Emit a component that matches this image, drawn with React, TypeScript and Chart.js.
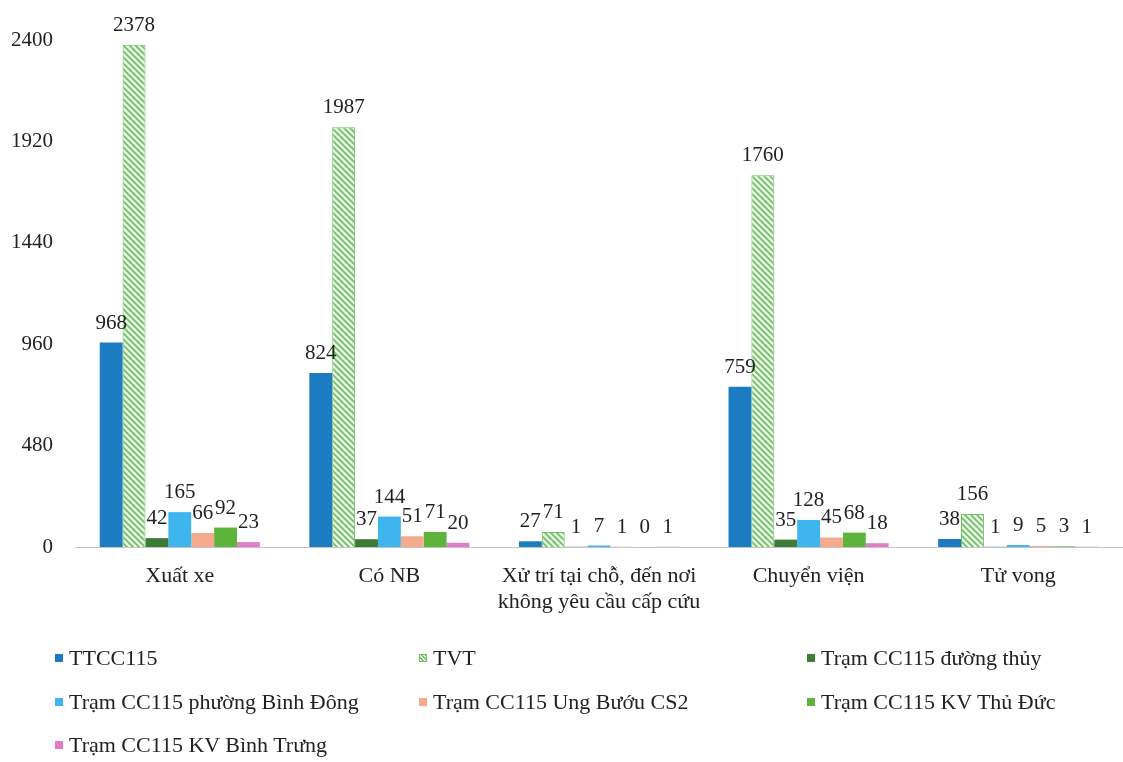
import React, { useEffect, useRef } from "react";
import { Chart, registerables } from "chart.js";

Chart.register(...registerables);

const FONT = "'Liberation Serif', 'Times New Roman', serif";
const TEXT = "#222222";

// Categories on the x axis (the third one wraps onto two lines)
const categories: (string | string[])[] = [
  "Xuất xe",
  "Có NB",
  ["Xử trí tại chỗ, đến nơi", "không yêu cầu cấp cứu"],
  "Chuyển viện",
  "Tử vong",
];

// Series names
const seriesNames = [
  "TTCC115",
  "TVT",
  "Trạm CC115 đường thủy",
  "Trạm CC115 phường Bình Đông",
  "Trạm CC115 Ung Bướu CS2",
  "Trạm CC115 KV Thủ Đức",
  "Trạm CC115 KV Bình Trưng",
];

// Series values, one per category
const ttcc115 = [968, 824, 27, 759, 38];
const tvt = [2378, 1987, 71, 1760, 156];
const duongThuy = [42, 37, 1, 35, 1];
const binhDong = [165, 144, 7, 128, 9];
const ungBuou = [66, 51, 1, 45, 5];
const thuDuc = [92, 71, 0, 68, 3];
const binhTrung = [23, 20, 1, 18, 1];

const seriesValues = [ttcc115, tvt, duongThuy, binhDong, ungBuou, thuDuc, binhTrung];

// Y axis ticks
const yTicks = [0, 480, 960, 1440, 1920, 2400];

const seriesColors = [
  "#1b7cc2",
  "#eaf6e2",
  "#3e7b38",
  "#3fb5ee",
  "#f5aa8c",
  "#5cb53a",
  "#e07ccb",
];
const TVT_LINE = "#6fbe69";

function makeHatch(): CanvasPattern | string {
  const s = 6;
  const c = document.createElement("canvas");
  c.width = s;
  c.height = s;
  const g = c.getContext("2d");
  if (!g) return seriesColors[1];
  g.fillStyle = seriesColors[1];
  g.fillRect(0, 0, s, s);
  g.strokeStyle = TVT_LINE;
  g.lineWidth = 1.7;
  g.beginPath();
  g.moveTo(-1, -1);
  g.lineTo(s + 1, s + 1);
  g.moveTo(-s - 1, -1);
  g.lineTo(1, s + 1);
  g.moveTo(s - 1, -1);
  g.lineTo(2 * s + 1, s + 1);
  g.stroke();
  const p = g.createPattern(c, "repeat");
  return p || seriesColors[1];
}

// Draws each bar's value above it
const valueLabels = {
  id: "valueLabels",
  afterDatasetsDraw(chart: any) {
    const ctx = chart.ctx;
    ctx.save();
    ctx.font = `21px ${FONT}`;
    ctx.fillStyle = TEXT;
    ctx.textAlign = "center";
    ctx.textBaseline = "alphabetic";
    chart.data.datasets.forEach((ds: any, i: number) => {
      const meta = chart.getDatasetMeta(i);
      meta.data.forEach((bar: any, j: number) => {
        ctx.fillText(String(ds.data[j]), bar.x, bar.y - 14);
      });
    });
    ctx.restore();
  },
};

const legendCols = [55, 419, 807];
const legendRows = [658, 702, 745];

export default function App() {
  const ref = useRef<HTMLCanvasElement | null>(null);

  useEffect(() => {
    if (!ref.current) return;
    const hatch = makeHatch();
    const datasets = seriesNames.map((name, i) => ({
      label: name,
      data: seriesValues[i],
      backgroundColor: i === 1 ? hatch : seriesColors[i],
      borderColor: i === 1 ? TVT_LINE : seriesColors[i],
      borderWidth: i === 1 ? 1 : 0,
      barPercentage: 1,
      categoryPercentage: 0.764,
    }));

    const chart = new Chart(ref.current, {
      type: "bar",
      data: { labels: categories as any, datasets: datasets as any },
      options: {
        responsive: false,
        animation: false,
        layout: { padding: { top: 40, right: 0, left: 0, bottom: 0 } },
        plugins: {
          legend: { display: false },
          tooltip: { enabled: false },
        },
        scales: {
          x: {
            grid: { display: false, drawTicks: false },
            border: { display: true, color: "#c4c4c4", width: 1 },
            ticks: {
              color: TEXT,
              font: { family: FONT, size: 22, lineHeight: 1.15 },
              padding: 17,
              maxRotation: 0,
              autoSkip: false,
            },
            afterFit: (s: any) => {
              s.height = 215;
            },
          },
          y: {
            min: 0,
            max: 2400,
            grid: { display: false, drawTicks: false },
            border: { display: false },
            afterBuildTicks: (s: any) => {
              s.ticks = yTicks.map((v) => ({ value: v }));
            },
            ticks: {
              color: TEXT,
              font: { family: FONT, size: 21 },
              padding: 22,
              callback: (v: any) => String(v),
            },
            afterFit: (s: any) => {
              s.width = 75;
            },
          },
        },
      },
      plugins: [valueLabels],
    });
    return () => chart.destroy();
  }, []);

  return (
    <div
      style={{
        position: "fixed",
        left: 0,
        top: 0,
        width: 1123,
        height: 762,
        background: "#ffffff",
        overflow: "hidden",
      }}
    >
      <canvas ref={ref} width={1123} height={762} style={{ display: "block" }} />
      {seriesNames.map((name, i) => {
        const col = i % 3;
        const row = Math.floor(i / 3);
        const left = legendCols[col];
        const cy = legendRows[row];
        const marker: React.CSSProperties =
          i === 1
            ? {
                background: `repeating-linear-gradient(45deg, ${seriesColors[1]} 0px, ${seriesColors[1]} 1.5px, ${TVT_LINE} 1.5px, ${TVT_LINE} 3px)`,
                border: `1px solid ${TVT_LINE}`,
                boxSizing: "border-box",
              }
            : { background: seriesColors[i] };
        return (
          <div
            key={name}
            style={{
              position: "absolute",
              left,
              top: cy - 14,
              height: 28,
              display: "flex",
              alignItems: "center",
              whiteSpace: "nowrap",
              fontFamily: FONT,
              fontSize: 22,
              color: TEXT,
            }}
          >
            <span style={{ width: 8, height: 8, marginRight: 6, display: "inline-block", flexShrink: 0, ...marker }} />
            <span>{name}</span>
          </div>
        );
      })}
    </div>
  );
}
